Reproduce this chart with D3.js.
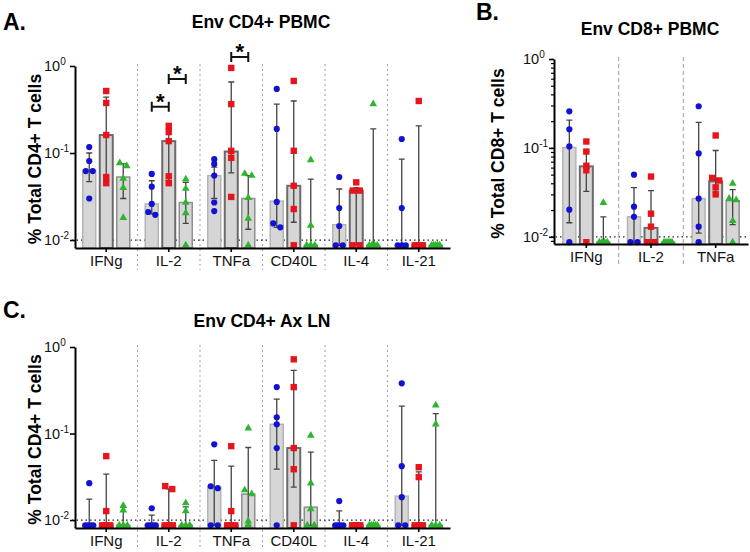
<!DOCTYPE html>
<html>
<head>
<meta charset="utf-8">
<script src="https://cdn.jsdelivr.net/npm/d3@7"></script>
<style>
body { margin: 0; background: #fff; }
text { font-family: Arial, "Liberation Sans", sans-serif; }
</style>
</head>
<body>
<div id="chart"></div>
<script>
var F = 0.0087; // below detection, plotted on the floor

var groups = ["blue", "red", "green"];
var colors = { blue: "#1212d2", red: "#e8141b", green: "#2db52d" };
var barStroke = { blue: "#b4b4b4", red: "#6a6a6a", green: "#8e8e8e" };

// ---- panel A : Env CD4+ PBMC
var aCategories = ["IFNg", "IL-2", "TNFa", "CD40L", "IL-4", "IL-21"];
var aBars = [[0.063, 0.161, 0.053], [0.026, 0.137, 0.027], [0.055, 0.104, 0.030],
             [0.028, 0.042, F], [0.015, 0.037, F], [F, F, F]];
var aErrLow = [[0.047, 0.048, 0.030], [0.020, 0.048, 0.0155], [0.030, 0.059, 0.0133],
               [0.014, 0.016, F], [F, F, F], [F, F, F]];
var aErrHigh = [[0.10, 0.44, 0.075], [0.048, 0.19, 0.046], [0.069, 0.655, 0.055],
                [0.365, 0.396, 0.050], [0.0386, 0.040, 0.189], [0.085, 0.205, F]];
var aPoints = [
  [[0.117, 0.081, 0.062, 0.062, 0.030], [0.516, 0.376, 0.161, 0.053, 0.045], [0.077, 0.071, 0.051, 0.040, 0.018]],
  [[0.0575, 0.041, 0.026, 0.021, 0.0195], [0.205, 0.174, 0.137, 0.054, 0.045], [0.050, 0.039, 0.027, 0.0204, F]],
  [[0.085, 0.075, 0.055, 0.027, 0.0215], [0.95, 0.365, 0.106, 0.088, 0.0313], [0.058, 0.055, 0.0306, 0.0177, F]],
  [[0.545, 0.189, 0.0274, 0.0155, 0.014], [0.673, 0.106, 0.042, 0.0227, F], [0.083, 0.0147, F, F, F]],
  [[0.053, 0.0233, 0.0145, F, F], [0.046, 0.037, 0.037, F, F], [0.366, F, F, F, F]],
  [[0.145, 0.0233, F, F, F], [0.396, F, F, F, F], [F, F, F, F, F]]
];
var aSig = [
  { cat: "IL-2", from: 0, to: 1, v: 0.34 },
  { cat: "IL-2", from: 1, to: 2, v: 0.71 },
  { cat: "TNFa", from: 1, to: 2, v: 1.27 }
];

// ---- panel B : Env CD8+ PBMC
var bCategories = ["IFNg", "IL-2", "TNFa"];
var bBars = [[0.101, 0.062, F], [0.0168, 0.0126, F], [0.0269, 0.042, 0.0255]];
var bErrLow = [[0.0144, 0.0325, F], [F, F, F], [0.011, 0.032, 0.0137]];
var bErrHigh = [[0.205, 0.091, 0.0168], [0.0357, 0.033, F], [0.194, 0.0935, 0.034]];
var bPoints = [
  [[0.258, 0.162, 0.104, 0.0202, F], [0.118, 0.091, 0.063, 0.056, F], [0.0242, F, F, F, F]],
  [[0.050, 0.0218, 0.0168, F, F], [0.0476, 0.0182, 0.0130, F, F], [F, F, F, F, F]],
  [[0.294, 0.0866, 0.0269, 0.013, F], [0.138, 0.046, 0.043, 0.036, 0.030], [0.0398, 0.027, 0.026, 0.0152, F]]
];

// ---- panel C : Env CD4+ Ax LN
var cCategories = ["IFNg", "IL-2", "TNFa", "CD40L", "IL-4", "IL-21"];
var cBars = [[F, F, F], [F, F, F], [0.024, F, 0.020], [0.128, 0.068, 0.0141], [F, F, F], [0.0189, F, F]];
var cErrLow = [[F, F, F], [F, F, F], [F, F, F], [0.0387, 0.024, F], [F, F, F], [F, F, F]];
var cErrHigh = [[0.0175, 0.0339, 0.014], [0.0114, 0.023, 0.0142], [0.049, 0.042, 0.069],
                [0.25, 0.536, 0.061], [0.0128, F, F], [0.207, 0.036, 0.17]];
var cPoints = [
  [[0.0267, F, F, F, F], [0.0548, 0.0127, F, F, F], [0.0147, 0.013, F, F, F]],
  [[0.0137, F, F, F, F], [0.0247, 0.0228, F, F, F], [0.0157, 0.0127, F, F, F]],
  [[0.075, 0.0246, 0.0234, F, F], [0.0715, 0.0127, F, F, F], [0.115, 0.0222, 0.020, 0.0097, F]],
  [[0.344, 0.154, 0.128, 0.068, F], [0.72, 0.344, 0.068, 0.0387, F], [0.095, 0.0267, 0.0134, F, F]],
  [[0.0166, F, F, F, F], [F, F, F, F, F], [F, F, F, F, F]],
  [[0.38, 0.042, 0.0184, F, F], [0.0408, 0.0314, F, F, F], [0.212, 0.128, F, F, F]]
];

var svg = d3.select("#chart").append("svg")
    .attr("width", 750)
    .attr("height", 552);

// spread overlapping points sideways
function spread(vals, y, cx){
  var ys = vals.map(function(v){ return y(v); }).sort(d3.ascending);
  var out = [], i = 0;
  while (i < ys.length) {
    var j = i;
    while (j + 1 < ys.length && ys[j + 1] - ys[i] < 4) j++;
    var n = j - i + 1;
    var step = n > 1 ? Math.min(7, 8 / (n - 1)) : 0;
    for (var k = i; k <= j; k++) out.push([cx + (k - i - (n - 1) / 2) * step, ys[k]]);
    i = j + 1;
  }
  return out;
}

function drawPanel(p){
  var g = svg.append("g");

  var x = d3.scaleBand().domain(p.cats).range([p.x0, p.x1]);
  var xg = d3.scaleBand().domain(groups).range([-25.5, 25.5]);
  var y = d3.scaleLog().domain([p.yMin, 1]).range([p.yBottom, p.yTop]);
  var gx = function(cat, grp){ return x(cat) + x.bandwidth() / 2 + xg(grp) + xg.bandwidth() / 2; };

  // letter + title
  g.append("text").attr("x", p.letterX).attr("y", p.letterY)
    .attr("font-size", 23).attr("font-weight", "bold").text(p.letter);
  g.append("text").attr("x", p.titleX).attr("y", p.titleY).attr("text-anchor", "middle")
    .attr("font-size", 17.5).attr("font-weight", "bold").text(p.title);
  g.append("text")
    .attr("transform", "translate(" + p.ylabX + "," + ((p.yTop + p.yBottom) / 2 + 2) + ") rotate(-90)")
    .attr("text-anchor", "middle").attr("font-size", 17.5).attr("font-weight", "bold")
    .text(p.ylabel);

  // category dividers
  p.cats.slice(1).forEach(function(c){
    g.append("line")
      .attr("x1", x(c)).attr("x2", x(c))
      .attr("y1", p.yTop - 2).attr("y2", p.yBottom + 22)
      .attr("stroke", "#a8a8a8").attr("stroke-width", 1.1)
      .attr("stroke-dasharray", p.dash);
  });

  // limit of detection line
  g.append("line")
    .attr("x1", p.x0 - 3).attr("x2", p.x1)
    .attr("y1", y(0.01)).attr("y2", y(0.01))
    .attr("stroke", "#222").attr("stroke-width", 1.2).attr("stroke-dasharray", "1.5,3");

  p.cats.forEach(function(cat, i){
    groups.forEach(function(grp, j){
      var cx = gx(cat, grp);
      var bv = p.bars[i][j];
      g.append("rect")
        .attr("x", cx - 6.5).attr("width", 13)
        .attr("y", y(bv)).attr("height", p.yBottom - y(bv))
        .attr("fill", "#d6d6d6")
        .attr("stroke", barStroke[grp])
        .attr("stroke-width", grp == "red" ? 2 : 1.5);

      var lo = p.lo[i][j], hi = p.hi[i][j];
      if (hi > lo) {
        g.append("path")
          .attr("d", "M" + cx + "," + y(hi) + "V" + y(lo) +
                     "M" + (cx - 3) + "," + y(hi) + "H" + (cx + 3) +
                     "M" + (cx - 3) + "," + y(lo) + "H" + (cx + 3))
          .attr("fill", "none").attr("stroke", "#444").attr("stroke-width", 1.3);
      }

      var pts = spread(p.pts[i][j], y, cx);
      pts.forEach(function(d){
        if (grp == "blue") {
          g.append("circle").attr("cx", d[0]).attr("cy", d[1]).attr("r", 3.1)
            .attr("fill", colors.blue);
        } else if (grp == "red") {
          g.append("rect").attr("x", d[0] - 3.2).attr("y", d[1] - 3.2)
            .attr("width", 6.4).attr("height", 6.4).attr("fill", colors.red);
        } else {
          g.append("path").attr("d", d3.symbol(d3.symbolTriangle, 26)())
            .attr("transform", "translate(" + d[0] + "," + d[1] + ")")
            .attr("fill", colors.green);
        }
      });
    });
  });

  // significance brackets
  (p.sig || []).forEach(function(s){
    var xa = gx(s.cat, groups[s.from]), xb = gx(s.cat, groups[s.to]), yy = y(s.v);
    g.append("path")
      .attr("d", "M" + xa + "," + (yy - 5) + "V" + (yy + 5) + "M" + xa + "," + yy + "H" + xb +
                 "M" + xb + "," + (yy - 5) + "V" + (yy + 5))
      .attr("fill", "none").attr("stroke", "#111").attr("stroke-width", 2);
    g.append("text").attr("x", (xa + xb) / 2).attr("y", yy + 2).attr("text-anchor", "middle")
      .attr("font-size", 22).attr("font-weight", "bold").text("*");
  });

  // axes
  if (p.minor) {
    g.append("g").attr("transform", "translate(" + p.x0 + ",0)")
      .call(d3.axisLeft(y).tickSize(3).tickSizeOuter(0).tickFormat(""))
      .call(function(a){ a.select(".domain").remove(); a.selectAll("line").attr("stroke-width", 1.2); });
  }
  var ya = g.append("g").attr("transform", "translate(" + p.x0 + ",0)")
    .call(d3.axisLeft(y).tickValues([1, 0.1, 0.01]).tickSize(5).tickSizeOuter(0)
      .tickFormat(function(d){ return Math.round(Math.log10(d)); }));
  ya.select(".domain").attr("stroke-width", 2);
  ya.selectAll("line").attr("stroke-width", 1.6);
  ya.selectAll(".tick text").each(function(d){
    var t = d3.select(this), e = t.text();
    t.text("10").attr("font-size", 14.5).attr("fill", "#111")
      .attr("text-anchor", "start").attr("x", -31);
    t.append("tspan").attr("dy", -6).attr("font-size", 10).text(e);
  });

  var xa = g.append("g").attr("transform", "translate(0," + p.yBottom + ")")
    .call(d3.axisBottom(x).tickSize(4).tickSizeOuter(0));
  xa.select(".domain").attr("stroke-width", 2);
  xa.selectAll("line").attr("stroke-width", 1.6);
  xa.selectAll("text").attr("font-size", 15).attr("fill", "#111");
}

drawPanel({
  letter: "A.", letterX: 3, letterY: 30,
  title: "Env CD4+ PBMC", titleX: 261, titleY: 28,
  ylabel: "% Total CD4+ T cells", ylabX: 41,
  cats: aCategories, bars: aBars, lo: aErrLow, hi: aErrHigh, pts: aPoints, sig: aSig,
  x0: 75, x1: 450, yTop: 66, yBottom: 248, yMin: 0.0081, dash: "2,3", minor: false
});

drawPanel({
  letter: "B.", letterX: 476, letterY: 20,
  title: "Env CD8+ PBMC", titleX: 650, titleY: 35,
  ylabel: "% Total CD8+ T cells", ylabX: 504,
  cats: bCategories, bars: bBars, lo: bErrLow, hi: bErrHigh, pts: bPoints,
  x0: 554, x1: 748, yTop: 59, yBottom: 244, yMin: 0.0083, dash: "4,3", minor: true
});

drawPanel({
  letter: "C.", letterX: 3, letterY: 318,
  title: "Env CD4+ Ax LN", titleX: 262, titleY: 327,
  ylabel: "% Total CD4+ T cells", ylabX: 41,
  cats: cCategories, bars: cBars, lo: cErrLow, hi: cErrHigh, pts: cPoints,
  x0: 75, x1: 450, yTop: 347, yBottom: 528, yMin: 0.0081, dash: "2,3", minor: false
});
</script>
</body>
</html>
